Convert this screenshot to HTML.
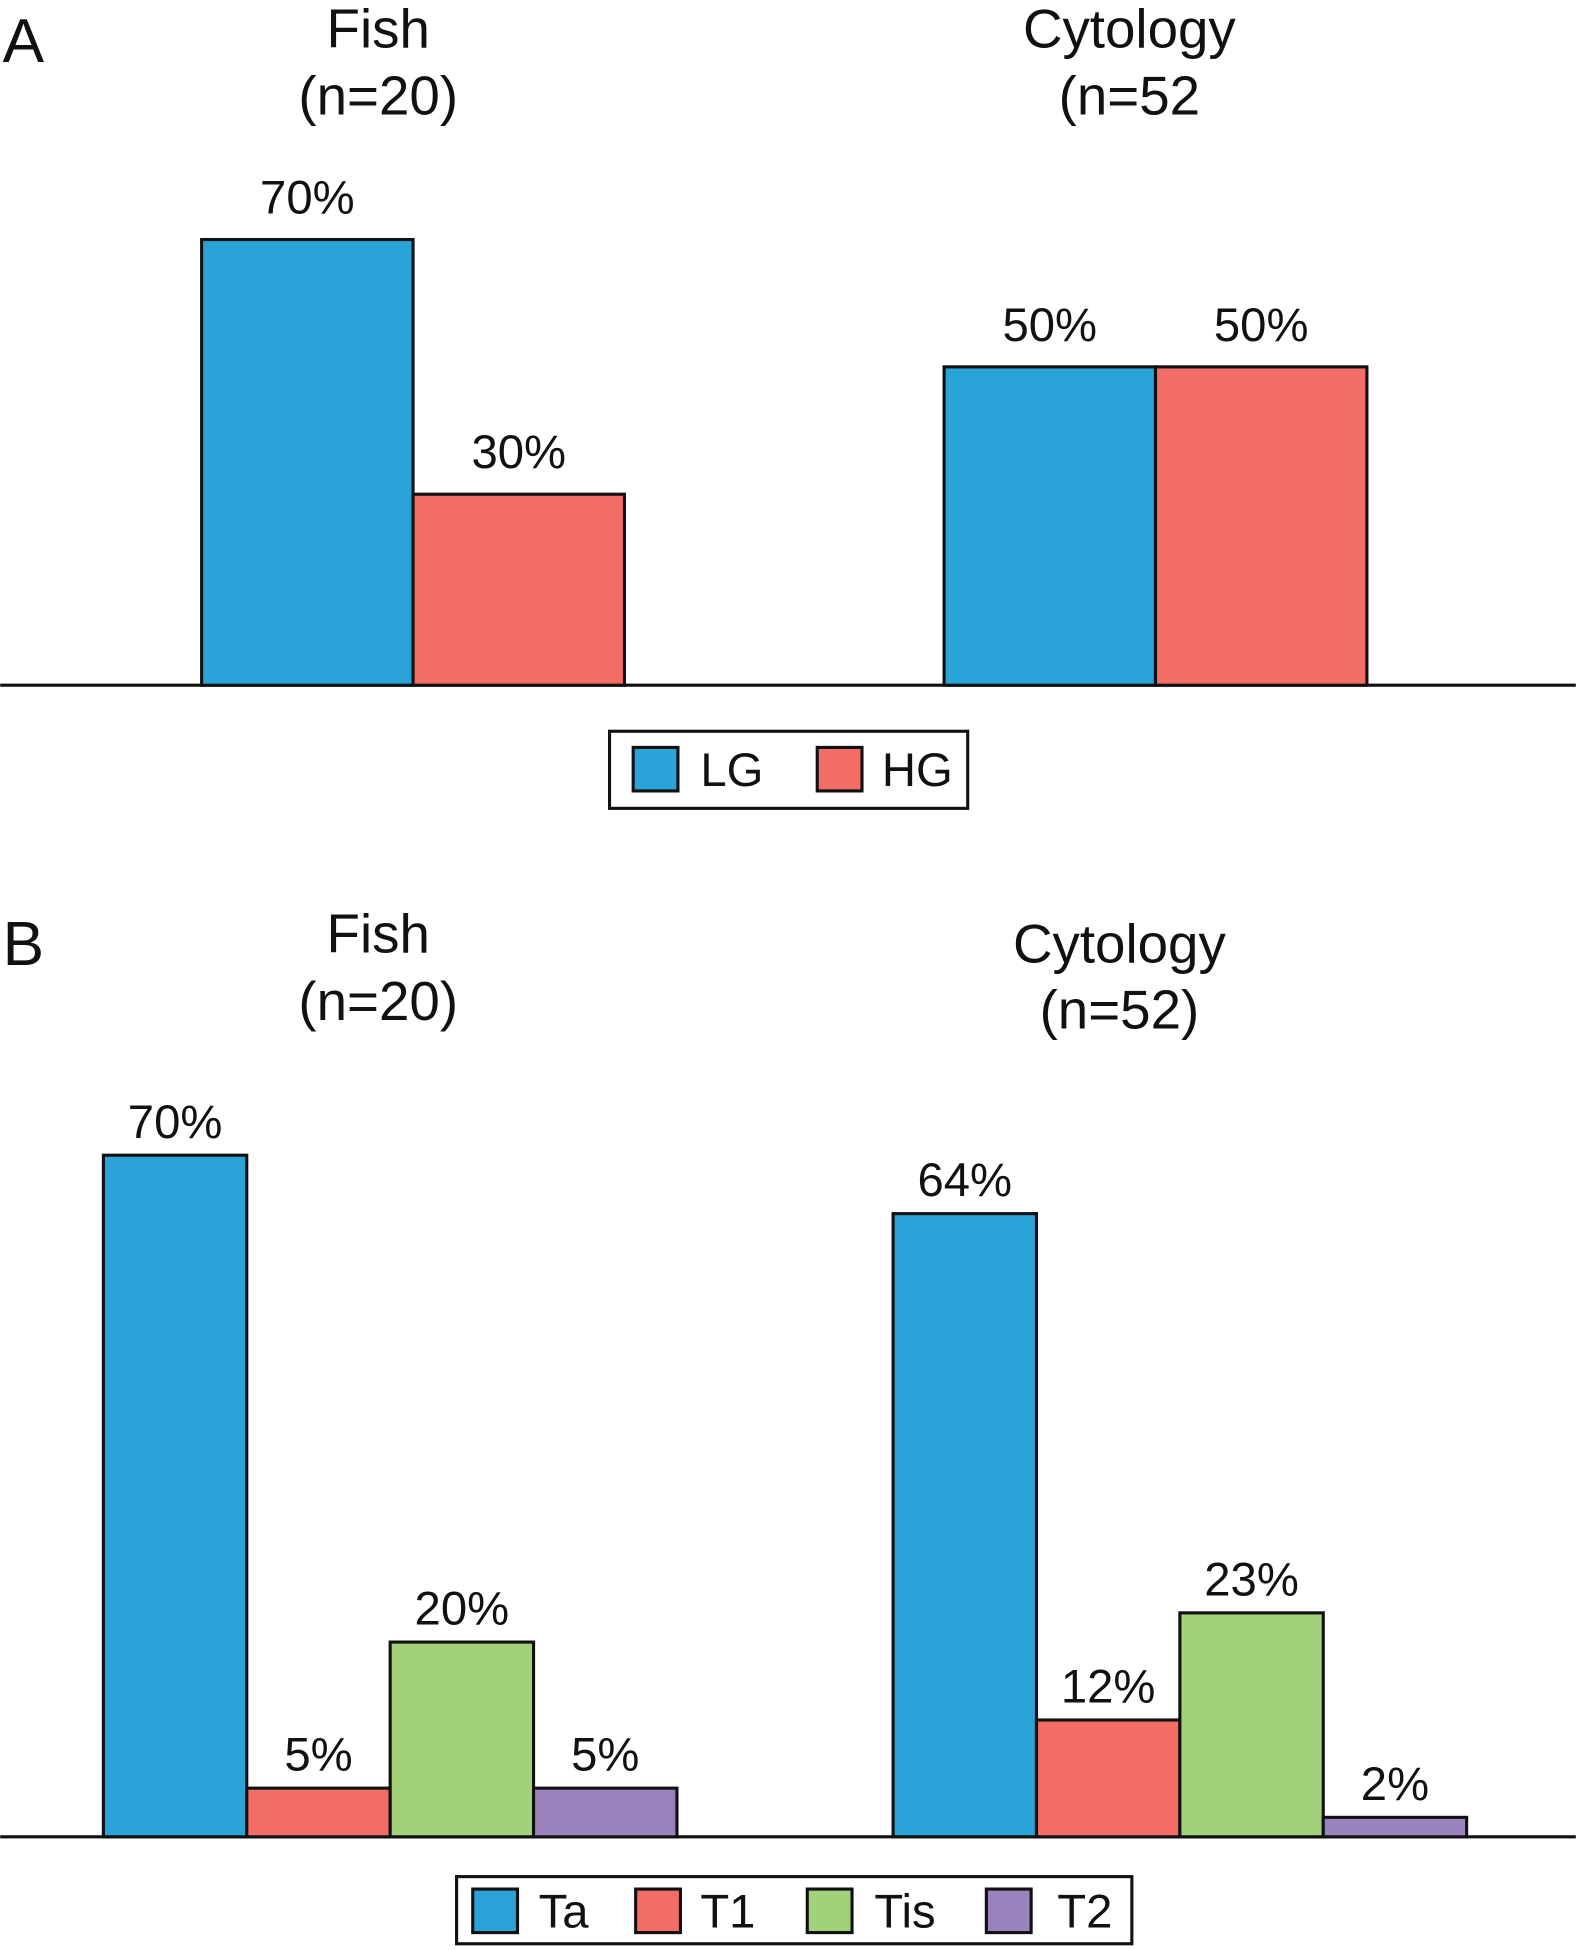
<!DOCTYPE html>
<html><head><meta charset="utf-8"><style>
html,body{margin:0;padding:0;background:#fff}
svg{display:block}
text{font-family:"Liberation Sans Narrow","Liberation Sans",sans-serif;fill:#111}
</style></head><body>
<svg id="chart" width="1576" height="1950" viewBox="0 0 1267 1568" xmlns="http://www.w3.org/2000/svg">
<text x="2" y="50" font-size="50" font-family="Liberation Sans">A</text>
<text x="2" y="776" font-size="50" font-family="Liberation Sans">B</text>
<g id="gA"></g>
<g id="gB"></g>
</svg>
<script>
const aGroups = ["Fish", "Cytology"];
const aSubs = ["(n=20)", "(n=52"];
const aSeries = ["LG", "HG"];
const aValues = [[70, 30], [50, 50]];
const aLabels = [["70%", "30%"], ["50%", "50%"]];

const bGroups = ["Fish", "Cytology"];
const bSubs = ["(n=20)", "(n=52)"];
const bSeries = ["Ta", "T1", "Tis", "T2"];
const bValues = [[70, 5, 20, 5], [64, 12, 23, 2]];
const bLabels = [["70%", "5%", "20%", "5%"], ["64%", "12%", "23%", "2%"]];

const NS = "http://www.w3.org/2000/svg";
const COLORS = ["#29a3d8", "#f26d66", "#a2d17a", "#9b82bd"];
function mk(parent, tag, attrs, txt) {
  const e = document.createElementNS(NS, tag);
  for (const k in attrs) e.setAttribute(k, attrs[k]);
  if (txt !== undefined) e.textContent = txt;
  parent.appendChild(e);
  return e;
}
const yA = v => 551 - v * 5.12;
const yB = v => 1477 - v * 7.83;

function panel(g, groups, subs, series, values, labels, yfn, base, groupX0, barW, titleX, titleY, subY, labOff) {
  let l = mk(g, "line", {x1: 0, x2: 1267, y1: base, y2: base, stroke: "#111", "stroke-width": 2.5});
  
  
  groups.forEach((gname, gi) => {
    let t = mk(g, "text", {x: titleX[gi], y: titleY[gi], "font-size": 44, "text-anchor": "middle"}, gname);
    
    
    let s = mk(g, "text", {x: titleX[gi], y: subY[gi], "font-size": 44, "text-anchor": "middle"}, subs[gi]);
    
    
    values[gi].forEach((v, si) => {
      const x = groupX0[gi] + si * barW;
      const top = yfn(v);
      let r = mk(g, "rect", {x: x, y: top, width: barW, height: base - top, fill: COLORS[si], stroke: "#111", "stroke-width": 2.5});
      
      
      let vl = mk(g, "text", {x: x + barW / 2, y: top - labOff, "font-size": 38, "text-anchor": "middle"}, labels[gi][si]);
      
      
    });
  });
}
function legend(g, series, box, items) {
  let lg = mk(g, "g", {});
  
  
  mk(lg, "rect", {x: box[0], y: box[1], width: box[2], height: box[3], fill: "#fff", stroke: "#111", "stroke-width": 2.5});
  series.forEach((s, i) => {
    const it = items[i];
    let e = mk(lg, "g", {});
    
    
    mk(e, "rect", {x: it[0], y: it[1], width: 36, height: 35, fill: COLORS[i], stroke: "#111", "stroke-width": 2.5});
    mk(e, "text", {x: it[2], y: it[1] + 31, "font-size": 38}, s);
  });
}
const gA = document.getElementById("gA");
const gB = document.getElementById("gB");
panel(gA, aGroups, aSubs, aSeries, aValues, aLabels, yA, 551, [162, 759], 170, [304, 908], [38, 38], [92, 92], 21);
legend(gA, aSeries, [490, 588, 288, 62], [[509, 601, 563], [657, 601, 709]]);
panel(gB, bGroups, bSubs, bSeries, bValues, bLabels, yB, 1477, [83, 718], 115.3, [304, 900], [766, 774], [820, 827], 14);
legend(gB, bSeries, [367, 1509, 543, 54], [[380, 1519, 433], [511, 1519, 563], [649, 1519, 703], [793, 1519, 850]]);
</script>
</body></html>
